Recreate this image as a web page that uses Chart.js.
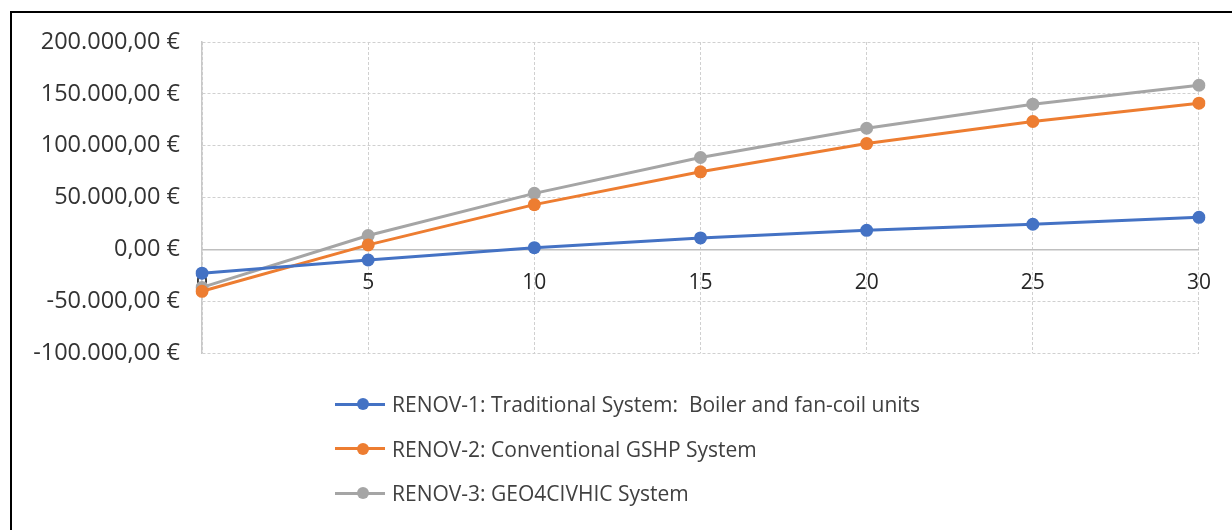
<!DOCTYPE html>
<html>
<head>
<meta charset="utf-8">
<script src="https://cdn.jsdelivr.net/npm/chart.js@4"></script>
<style>
  html, body { margin: 0; padding: 0; background: #fff; }
  #wrap { position: relative; width: 1232px; height: 530px; overflow: hidden; }
  #frame { position: absolute; left: 10px; top: 11px; width: 1240px; height: 540px;
           border-left: 2px solid #000; border-top: 2px solid #000; box-sizing: border-box; }
  #chart { position: absolute; left: 0; top: 0; }
  #legend { position: absolute; left: 335px; top: 389px; font-family: "Open Sans", sans-serif;
            font-size: 21px; color: #404040; }
  .item { height: 44.5px; display: flex; align-items: flex-start; }
  .sw { position: relative; width: 50px; height: 30px; margin-right: 7px; }
  .sw .ln { position: absolute; left: 0; right: 0; top: 15px; height: 3px; margin-top: -1.5px; }
  .sw .dot { position: absolute; left: 22px; top: 9px; width: 12px; height: 12px; border-radius: 50%; }
  .item span { line-height: 30px; white-space: pre; }
</style>
</head>
<body>
<div id="wrap">
  <div id="frame"></div>
  <canvas id="chart" width="1232" height="530"></canvas>
  <div id="legend"></div>
</div>
<script>
const years = ['0', '5', '10', '15', '20', '25', '30'];
const renov1 = [-23000, -10300, 1600, 11000, 18300, 24200, 30900];
const renov2 = [-40500, 4300, 43100, 74800, 102000, 123300, 141000];
const renov3 = [-36700, 13300, 54000, 88600, 116800, 140000, 158300];
const seriesNames = [
  'RENOV-1: Traditional System:  Boiler and fan-coil units',
  'RENOV-2: Conventional GSHP System',
  'RENOV-3: GEO4CIVHIC System'
];
const seriesColors = ['#4472C4', '#ED7D31', '#A5A5A5'];

function euro(v) {
  const neg = v < 0;
  let s = Math.abs(Math.round(v)).toString();
  s = s.replace(/\B(?=(\d{3})+(?!\d))/g, '.');
  return (neg ? '-' : '') + s + ',00 €';
}

function makeSet(label, data, color) {
  return {
    label: label,
    data: data,
    borderColor: color,
    backgroundColor: color,
    borderWidth: 3,
    pointRadius: 6.5,
    pointHoverRadius: 6.5,
    pointBorderWidth: 0,
    tension: 0
  };
}

const yFont = { family: '"Open Sans", sans-serif', size: 23.5 };
const xFont = { family: '"Open Sans", sans-serif', size: 21 };

const chart = new Chart(document.getElementById('chart'), {
  type: 'line',
  data: {
    labels: years,
    datasets: [
      makeSet(seriesNames[0], renov1, seriesColors[0]),
      makeSet(seriesNames[1], renov2, seriesColors[1]),
      makeSet(seriesNames[2], renov3, seriesColors[2])
    ]
  },
  options: {
    responsive: false,
    animation: false,
    layout: { padding: { left: 0, top: 42, right: 32, bottom: 177 } },
    plugins: { legend: { display: false }, tooltip: { enabled: false } },
    scales: {
      x: {
        position: { y: 0 },
        offset: false,
        grid: { color: '#d0d0d0', drawTicks: false },
        border: { color: '#bfbfbf', width: 1.5, dash: [3, 2] },
        ticks: { color: '#262626', font: xFont, padding: 21, maxRotation: 0 },
        afterFit: s => { s.height = 0; }
      },
      y: {
        min: -100000,
        max: 200000,
        ticks: { stepSize: 50000, color: '#333333', font: yFont, padding: 22,
                 callback: v => euro(v) },
        grid: { color: '#d0d0d0', drawTicks: false },
        border: { color: '#c8c8c8', width: 1.5, dash: [3, 2] },
        afterFit: s => { s.width = 202; }
      }
    }
  }
});

const legend = document.getElementById('legend');
chart.data.datasets.forEach(ds => {
  const item = document.createElement('div');
  item.className = 'item';
  item.innerHTML = '<div class="sw"><div class="ln" style="background:' + ds.borderColor +
    '"></div><div class="dot" style="background:' + ds.borderColor + '"></div></div><span>' +
    ds.label + '</span>';
  legend.appendChild(item);
});
</script>
</body>
</html>
